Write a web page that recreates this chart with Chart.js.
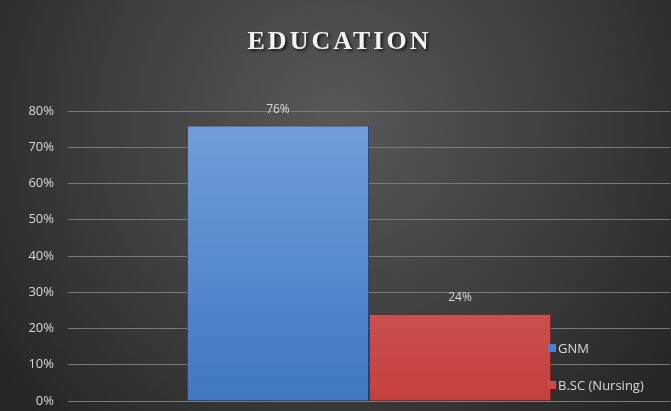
<!DOCTYPE html>
<html>
<head>
<meta charset="utf-8">
<script src="https://cdn.jsdelivr.net/npm/chart.js@4"></script>
<style>
  html, body { margin: 0; padding: 0; background: #333; }
  #wrap { width: 671px; height: 411px; }
</style>
</head>
<body>
<div id="wrap"><canvas id="chart" width="671" height="411"></canvas></div>
<script>
// --- Data ---
const categories = ['Education'];
const seriesLabels = ['GNM', 'B.SC (Nursing)'];
const gnmValues = [76];
const bscValues = [24];
const yTicks = [0, 10, 20, 30, 40, 50, 60, 70, 80];
const titleText = 'EDUCATION';

// --- Colours ---
const blueTop = '#739fdc', blueBottom = '#4077c1';
const redTop = '#da7572', redBottom = '#c4403e';
const textColor = '#d9d9d9';

function barGradient(ctx, top, bottom) {
  const area = ctx.chart.chartArea;
  if (!area) return bottom;
  const g = ctx.chart.ctx.createLinearGradient(0, area.top, 0, area.bottom);
  g.addColorStop(0, top);
  g.addColorStop(1, bottom);
  return g;
}

// background + title
const backdrop = {
  id: 'backdrop',
  beforeDraw(chart) {
    const { ctx, width, height } = chart;
    ctx.save();
    const g = ctx.createRadialGradient(width * 0.5, height * 0.3, 10, width * 0.5, height * 0.3, width * 0.62);
    g.addColorStop(0, '#575757');
    g.addColorStop(0.6, '#3b3b3b');
    g.addColorStop(1, '#262626');
    ctx.fillStyle = g;
    ctx.fillRect(0, 0, width, height);

    ctx.font = 'bold 26px "Liberation Serif", serif';
    ctx.letterSpacing = '3px';
    ctx.textAlign = 'center';
    ctx.textBaseline = 'middle';
    ctx.shadowColor = 'rgba(0,0,0,0.7)';
    ctx.shadowOffsetX = 2;
    ctx.shadowOffsetY = 2;
    ctx.shadowBlur = 3;
    ctx.fillStyle = '#f2f2f2';
    ctx.fillText(titleText, width / 2 + 4, 42);
    ctx.restore();
  }
};

// value labels above bars + legend inside the plot
const overlay = {
  id: 'overlay',
  afterDatasetsDraw(chart) {
    const { ctx } = chart;
    ctx.save();
    ctx.font = '12px "Open Sans", sans-serif';
    ctx.fillStyle = textColor;
    ctx.textAlign = 'center';
    ctx.textBaseline = 'middle';
    chart.data.datasets.forEach((ds, i) => {
      chart.getDatasetMeta(i).data.forEach((bar, j) => {
        ctx.fillText(ds.data[j] + '%', bar.x, bar.y - 16);
      });
    });

    const legendColors = ['#4a80d0', '#d04b48'];
    const legendY = [348, 385];
    ctx.font = '13px "Open Sans", sans-serif';
    ctx.textAlign = 'left';
    chart.data.datasets.forEach((ds, i) => {
      ctx.fillStyle = legendColors[i];
      ctx.fillRect(548, legendY[i] - 4, 8, 8);
      ctx.fillStyle = textColor;
      ctx.fillText(ds.label, 558, legendY[i] + 1);
    });
    ctx.restore();
  }
};

new Chart(document.getElementById('chart'), {
  type: 'bar',
  data: {
    labels: categories,
    datasets: [
      {
        label: seriesLabels[0],
        data: gnmValues,
        backgroundColor: ctx => barGradient(ctx, blueTop, blueBottom),
        borderColor: 'rgba(40,70,120,0.8)',
        borderWidth: 1
      },
      {
        label: seriesLabels[1],
        data: bscValues,
        backgroundColor: ctx => barGradient(ctx, redTop, redBottom),
        borderColor: 'rgba(120,40,40,0.8)',
        borderWidth: 1
      }
    ]
  },
  options: {
    responsive: false,
    animation: false,
    devicePixelRatio: 1,
    layout: { padding: { top: 111, bottom: 10, left: 0, right: 1 } },
    plugins: {
      legend: { display: false },
      title: { display: false },
      tooltip: { enabled: false }
    },
    datasets: {
      bar: { categoryPercentage: 0.605, barPercentage: 1 }
    },
    scales: {
      x: { display: false },
      y: {
        min: 0,
        max: 80,
        afterBuildTicks: axis => { axis.ticks = yTicks.map(v => ({ value: v })); },
        afterFit: axis => {
          axis.width = 68;
          axis.paddingTop = 0;
          axis.paddingBottom = 0;
        },
        border: { display: false },
        grid: { color: '#7a7a7a', lineWidth: 1, drawTicks: false },
        ticks: {
          color: textColor,
          padding: 14,
          font: { family: '"Open Sans", sans-serif', size: 13 },
          callback: v => v + '%'
        }
      }
    }
  },
  plugins: [backdrop, overlay]
});
</script>
</body>
</html>
